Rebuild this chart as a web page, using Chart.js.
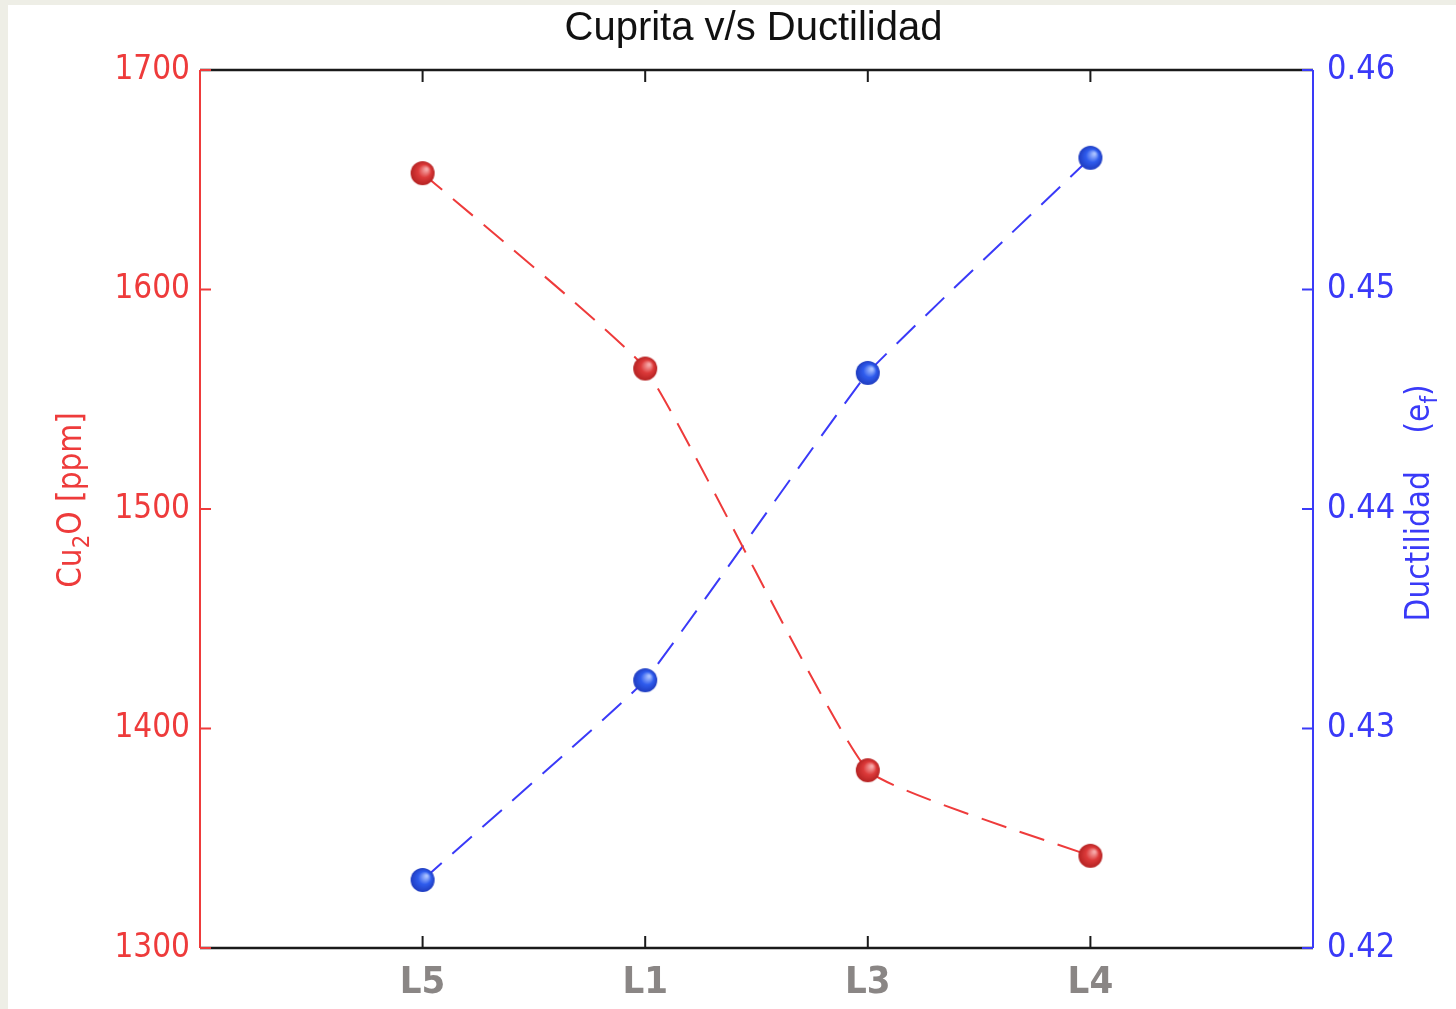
<!DOCTYPE html>
<html>
<head>
<meta charset="utf-8">
<script src="https://cdn.jsdelivr.net/npm/chart.js@4.4.1/dist/chart.umd.min.js"></script>
<style>
  html, body { margin: 0; padding: 0; background: #eeeee6; overflow: hidden; }
  #wrap { position: absolute; left: 8px; top: 5px; width: 1448px; height: 1004px; background: #fff; }
</style>
</head>
<body>
<div id="wrap"><canvas id="chart"></canvas></div>
<script>
const categories = ['L5', 'L1', 'L3', 'L4']
const cu2o = [1653, 1564, 1381, 1342]
const ductilidad = [0.4231, 0.4322, 0.4462, 0.4560]
const leftTicks = [1300, 1400, 1500, 1600, 1700]
const rightTicks = [0.42, 0.43, 0.44, 0.45, 0.46]

const RED = '#ee3b3b'
const BLUE = '#3a3af8'
const NARROW = '"Liberation Sans Narrow", "DejaVu Sans Condensed", "Liberation Sans", sans-serif'

function sphere(base, light, dark) {
  const r = 12
  const cv = document.createElement('canvas')
  cv.width = cv.height = r * 2 + 2
  const ctx = cv.getContext('2d')
  const g = ctx.createRadialGradient(r + 5, r - 3, 1, r + 1, r + 1, r)
  g.addColorStop(0, light)
  g.addColorStop(0.5, base)
  g.addColorStop(1, dark)
  ctx.fillStyle = g
  ctx.beginPath()
  ctx.arc(r + 1, r + 1, r, 0, Math.PI * 2)
  ctx.fill()
  return cv
}

const redBall = sphere('#dc3a3a', '#f6a8a8', '#b52222')
const blueBall = sphere('#2f5ced', '#a8c0ff', '#1f3cc0')

function drawRich(ctx, parts, x, y, size, color) {
  // parts: [text, isSub]
  ctx.fillStyle = color
  ctx.textBaseline = 'middle'
  let total = 0
  parts.forEach(p => {
    ctx.font = (p[1] ? size * 0.72 : size) + 'px ' + NARROW
    total += ctx.measureText(p[0]).width
  })
  let cx = x - total / 2
  parts.forEach(p => {
    ctx.font = (p[1] ? size * 0.72 : size) + 'px ' + NARROW
    ctx.textAlign = 'left'
    ctx.fillText(p[0], cx, p[1] ? y + size * 0.32 : y)
    cx += ctx.measureText(p[0]).width
  })
}

const framePlugin = {
  id: 'frame',
  afterDraw(chart) {
    const { ctx, chartArea: a, scales } = chart
    ctx.save()
    // top and bottom axes
    ctx.strokeStyle = '#1a1a1a'
    ctx.lineWidth = 2.5
    ctx.beginPath()
    ctx.moveTo(a.left, a.top); ctx.lineTo(a.right, a.top)
    ctx.moveTo(a.left, a.bottom); ctx.lineTo(a.right, a.bottom)
    ctx.stroke()
    ctx.lineWidth = 2
    ctx.beginPath()
    categories.forEach((c, i) => {
      const x = scales.x.getPixelForValue(i + 1)
      ctx.moveTo(x, a.top); ctx.lineTo(x, a.top + 12)
      ctx.moveTo(x, a.bottom); ctx.lineTo(x, a.bottom - 12)
    })
    ctx.stroke()
    // left axis
    ctx.strokeStyle = RED
    ctx.lineWidth = 2
    ctx.beginPath()
    ctx.moveTo(a.left, a.top); ctx.lineTo(a.left, a.bottom)
    leftTicks.forEach(v => {
      const y = scales.y.getPixelForValue(v)
      ctx.moveTo(a.left, y); ctx.lineTo(a.left + 11, y)
    })
    ctx.stroke()
    // right axis
    ctx.strokeStyle = BLUE
    ctx.beginPath()
    ctx.moveTo(a.right, a.top); ctx.lineTo(a.right, a.bottom)
    rightTicks.forEach(v => {
      const y = scales.y1.getPixelForValue(v)
      ctx.moveTo(a.right, y); ctx.lineTo(a.right - 11, y)
    })
    ctx.stroke()

    // title
    ctx.fillStyle = '#111'
    ctx.font = '40px "Liberation Sans", Arial, sans-serif'
    ctx.textAlign = 'center'
    ctx.textBaseline = 'middle'
    ctx.fillText('Cuprita v/s Ductilidad', (a.left + a.right) / 2 - 3, 24)

    // axis titles
    ctx.save()
    ctx.translate(64, 495)
    ctx.rotate(-Math.PI / 2)
    drawRich(ctx, [['Cu', false], ['2', true], ['O [ppm]', false]], 0, 0, 33, RED)
    ctx.restore()
    ctx.save()
    ctx.translate(1412, 498)
    ctx.rotate(-Math.PI / 2)
    drawRich(ctx, [['Ductilidad    (e', false], ['f', true], [')', false]], 0, 0, 33, BLUE)
    ctx.restore()
    ctx.restore()
  }
}

new Chart(document.getElementById('chart'), {
  type: 'line',
  data: {
    datasets: [
      {
        label: 'Cu2O',
        data: cu2o.map((v, i) => ({ x: i + 1, y: v })),
        yAxisID: 'y',
        borderColor: RED,
        borderWidth: 2,
        borderDash: [26, 14],
        tension: 0.12,
        pointStyle: redBall,
        fill: false
      },
      {
        label: 'Ductilidad',
        data: ductilidad.map((v, i) => ({ x: i + 1, y: v })),
        yAxisID: 'y1',
        borderColor: BLUE,
        borderWidth: 2,
        borderDash: [26, 14],
        tension: 0.08,
        pointStyle: blueBall,
        fill: false
      }
    ]
  },
  options: {
    responsive: true,
    maintainAspectRatio: false,
    animation: false,
    layout: { padding: { top: 65, left: 0, right: 0, bottom: 0 } },
    plugins: { legend: { display: false }, tooltip: { enabled: false } },
    scales: {
      x: {
        type: 'linear',
        min: 0,
        max: 5,
        afterFit: s => { s.height = 61 },
        afterBuildTicks: s => { s.ticks = categories.map((c, i) => ({ value: i + 1 })) },
        grid: { display: false, drawTicks: false },
        border: { display: false },
        ticks: {
          padding: 12,
          color: '#8a8685',
          font: { family: NARROW, size: 38, weight: 'bold' },
          callback: v => categories[v - 1] || ''
        }
      },
      y: {
        position: 'left',
        min: 1300,
        max: 1700,
        afterFit: s => { s.width = 192 },
        afterBuildTicks: s => { s.ticks = leftTicks.map(v => ({ value: v })) },
        grid: { display: false, drawTicks: false },
        border: { display: false },
        ticks: {
          padding: 10,
          color: RED,
          font: { family: NARROW, size: 33 },
          callback: v => String(v)
        }
      },
      y1: {
        position: 'right',
        min: 0.42,
        max: 0.46,
        afterFit: s => { s.width = 143 },
        afterBuildTicks: s => { s.ticks = rightTicks.map(v => ({ value: v })) },
        grid: { display: false, drawTicks: false },
        border: { display: false },
        ticks: {
          padding: 14,
          color: BLUE,
          font: { family: NARROW, size: 34 },
          callback: v => v.toFixed(2)
        }
      }
    }
  },
  plugins: [framePlugin]
})
</script>
</body>
</html>
